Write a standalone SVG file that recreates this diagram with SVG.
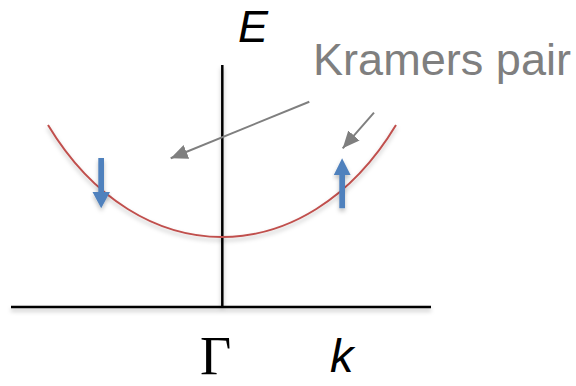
<svg xmlns="http://www.w3.org/2000/svg" width="576" height="386" viewBox="0 0 576 386">
  <style>
    .axis { stroke: #000000; stroke-width: 2.5; fill: none; }
    .band { stroke: #c0504d; stroke-width: 2; fill: none; }
    .spin { fill: #4f81bd; }
    .pointer { stroke: #7f7f7f; stroke-width: 2; fill: none; marker-end: url(#grayHead); }
    .math { font-family: "Liberation Sans", Arial, sans-serif; font-style: italic; fill: #000000; }
    .note { font-family: "Liberation Sans", Arial, sans-serif; fill: #7f7f7f; }
  </style>
  <defs>
    <filter id="shadow" x="-10%" y="-10%" width="120%" height="130%">
      <feDropShadow dx="0" dy="3" stdDeviation="2" flood-color="#000000" flood-opacity="0.25"/>
    </filter>
    <marker id="grayHead" markerUnits="userSpaceOnUse" markerWidth="18" markerHeight="16" refX="17" refY="7.5" orient="auto">
      <path d="M0,0 L17,7.5 L0,15 Z" fill="#7f7f7f"/>
    </marker>
  </defs>
  <rect width="576" height="386" fill="#ffffff"/>

  <g id="axes" filter="url(#shadow)">
    <line class="axis" x1="222.3" y1="65" x2="222.3" y2="307"/>
    <line class="axis" x1="11" y1="307" x2="431" y2="307"/>
  </g>

  <g id="band" filter="url(#shadow)">
    <path class="band" d="M48,125 C138,274.3 306,274.3 396,125"/>
  </g>

  <g id="spin-down" filter="url(#shadow)">
    <path class="spin" d="M98.3,158 H104 V192 H110 L101.2,208.3 L92.5,192 H98.3 Z"/>
  </g>

  <g id="spin-up" filter="url(#shadow)">
    <path class="spin" d="M339.3,208.3 V175 H333.8 L342.1,158.3 L350.6,175 H345 V208.3 Z"/>
  </g>

  <g id="label-E">
    <text class="math" x="238" y="41.7" font-size="45">E</text>
  </g>

  <g id="label-kramers">
    <text class="note" x="313" y="75" font-size="44" textLength="258" lengthAdjust="spacingAndGlyphs">Kramers pair</text>
  </g>

  <g id="label-gamma">
    <text x="200" y="374" font-family="'Liberation Serif', 'Times New Roman', serif" font-size="54" fill="#000000">Γ</text>
  </g>

  <g id="label-k">
    <text class="math" x="330" y="371.7" font-size="47">k</text>
  </g>

  <g id="connectors">
    <line class="pointer" x1="309.3" y1="101.7" x2="170.7" y2="158.3"/>
    <line class="pointer" x1="374" y1="112.7" x2="342.7" y2="148.3"/>
  </g>
</svg>
